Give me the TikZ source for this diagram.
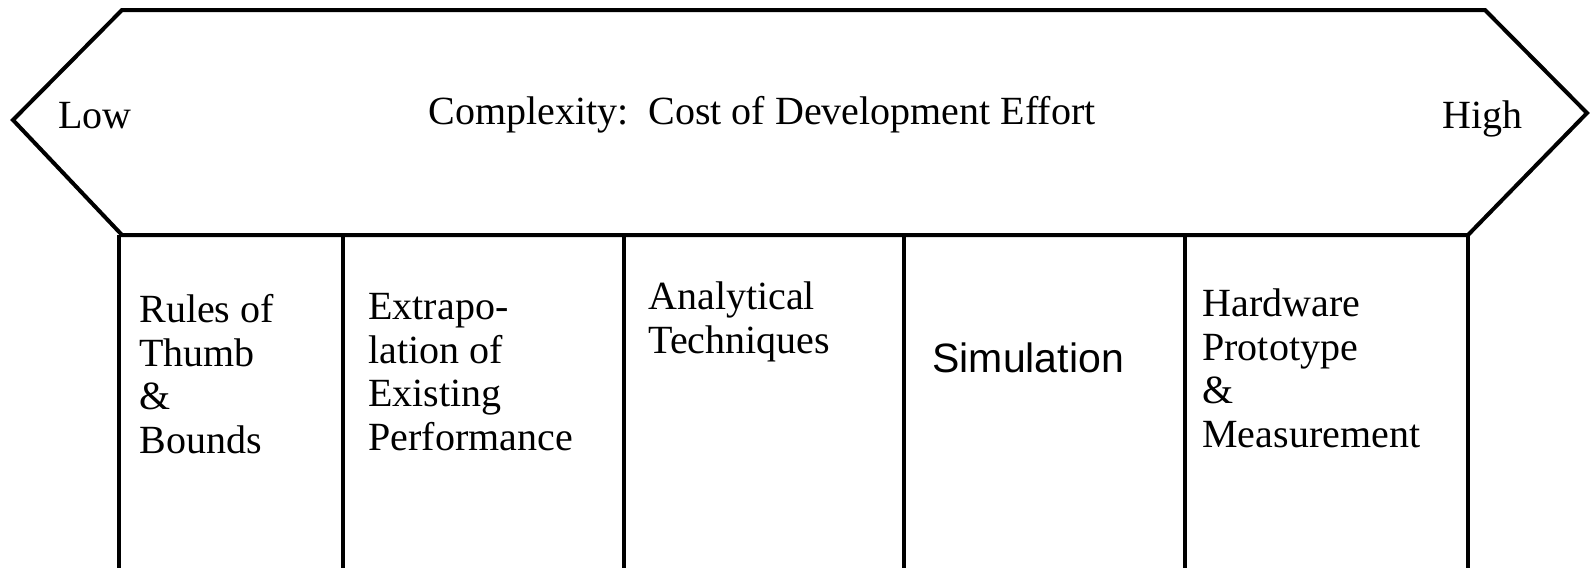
\documentclass[tikz,border=0pt]{standalone}
\usepackage{fontspec}
\setmainfont{Liberation Serif}
\newfontfamily\simfont{Liberation Sans}
\usetikzlibrary{positioning}

\begin{document}
\begin{tikzpicture}[x=0.5pt,y=-0.5pt,
    outline/.style={draw,line width=2pt,line join=miter},
    divider/.style={draw,line width=1.6pt},
    entry/.style={anchor=base west,inner sep=0pt,align=left,
      font=\fontsize{20}{21.75}\selectfont},
    simentry/.style={entry,font=\simfont\fontsize{20.5}{22}\selectfont}]
  \useasboundingbox (0,0) rectangle (1591,568);
  % Scale arrow
  \draw[outline] (13,120) -- (122,10) -- (1485,10) -- (1587,113)
    -- (1468,235) -- (122,235) -- cycle;
  \node[entry] (low) at (58,128) {Low};
  \node[entry] (high) at (1442,128) {High};
  \node[entry] (title) at (428,124) {Complexity:\ \ Cost of Development Effort};
  % Columns (multi-line labels sit on the baseline of their last line)
  \foreach \x in {119,343,624,904,1185,1468}
    \draw[divider] (\x,235) -- (\x,568);
  \node[entry] (rules) at (139,453) {Rules of\\Thumb\\\&\\Bounds};
  \node[entry] (extrap) at (368,450) {Extrapo-\\lation of\\Existing\\Performance};
  \node[entry] (analyt) at (648,353) {Analytical\\Techniques};
  \node[simentry] (simul) at (932,372) {Simulation};
  \node[entry] (hwproto) at (1202,447) {Hardware\\Prototype\\\&\\Measurement};
\end{tikzpicture}
\end{document}
